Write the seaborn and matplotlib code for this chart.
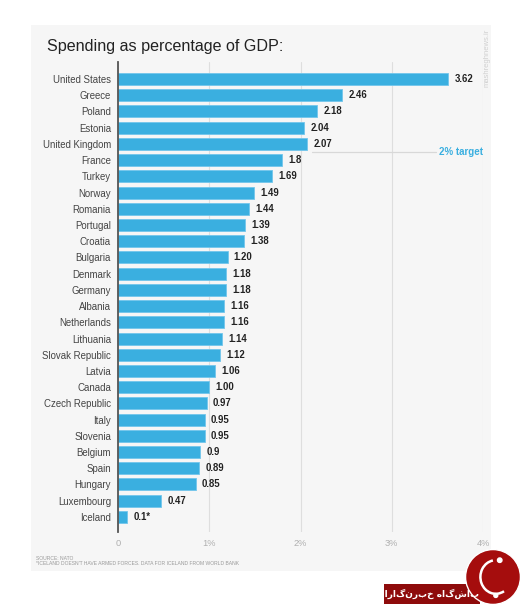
import matplotlib
matplotlib.use("Agg")
import matplotlib.pyplot as plt
import seaborn as sns
import pandas as pd
from matplotlib.patches import Rectangle, Circle, Arc

countries = ["United States", "Greece", "Poland", "Estonia", "United Kingdom", "France",
             "Turkey", "Norway", "Romania", "Portugal", "Croatia", "Bulgaria", "Denmark",
             "Germany", "Albania", "Netherlands", "Lithuania", "Slovak Republic", "Latvia",
             "Canada", "Czech Republic", "Italy", "Slovenia", "Belgium", "Spain", "Hungary",
             "Luxembourg", "Iceland"]
values = [3.62, 2.46, 2.18, 2.04, 2.07, 1.8, 1.69, 1.49, 1.44, 1.39, 1.38, 1.20, 1.18,
          1.18, 1.16, 1.16, 1.14, 1.12, 1.06, 1.00, 0.97, 0.95, 0.95, 0.9, 0.89, 0.85,
          0.47, 0.1]
value_labels = ["3.62", "2.46", "2.18", "2.04", "2.07", "1.8", "1.69", "1.49", "1.44", "1.39",
                "1.38", "1.20", "1.18", "1.18", "1.16", "1.16", "1.14", "1.12", "1.06", "1.00",
                "0.97", "0.95", "0.95", "0.9", "0.89", "0.85", "0.47", "0.1*"]
x_ticks = [0, 1, 2, 3, 4]
x_tick_labels = ["0", "1%", "2%", "3%", "4%"]
target_value = 2.0
title = "Spending as percentage of GDP:"
source_note = "SOURCE: NATO"
footnote = "*ICELAND DOESN'T HAVE ARMED FORCES. DATA FOR ICELAND FROM WORLD BANK"
logo_text = "باشگاه خبرنگاران"

df = pd.DataFrame({"country": countries, "value": values})

sns.set_theme(style="white")
plt.rcParams["font.family"] = ["Liberation Sans", "DejaVu Sans"]

W, H = 520, 604
fig = plt.figure(figsize=(W / 100, H / 100), dpi=100)
fig.patch.set_facecolor("white")

# panel background
fig.patches.append(Rectangle((31 / W, 1 - 571 / H), 460 / W, 546 / H,
                             transform=fig.transFigure, facecolor="#f6f6f6",
                             edgecolor="none", zorder=-5))

ax = fig.add_axes([118 / W, 1 - 532 / H, 365 / W, 470 / H])
ax.set_zorder(2)
ax.set_facecolor("none")

bar_color = "#3aafe0"
sns.barplot(data=df, y="country", x="value", orient="h", color=bar_color,
            width=0.74, saturation=1, edgecolor="#72c6ec", linewidth=0.6, ax=ax, zorder=3)

ax.set_xlim(0, 4.0)
ax.set_ylim(27.93, -1.05)
ax.set_xticks(x_ticks)
ax.set_xticklabels(x_tick_labels, color="#b0b0b0", fontsize=6.7)
ax.tick_params(axis="x", length=0, pad=5)
ax.tick_params(axis="y", length=0, pad=5, labelsize=6.9, labelcolor="#444444")
ax.set_xlabel("")
ax.set_ylabel("")
ax.xaxis.grid(True, color="#dedede", linewidth=0.8, zorder=0)
ax.set_axisbelow(True)
for s in ["top", "right", "bottom"]:
    ax.spines[s].set_visible(False)
ax.spines["left"].set_color("#555555")
ax.spines["left"].set_linewidth(1.3)
ax.spines["left"].set_zorder(5)

for i, (v, lab) in enumerate(zip(values, value_labels)):
    ax.annotate(lab, (v, i), xytext=(4.5, 0), textcoords="offset points",
                ha="left", va="center", fontsize=6.9, fontweight="bold", color="#222222")

# 2% target marker line
ax.plot([2.13, 3.48], [4.5, 4.5], color="#d8d8d8", linewidth=0.9, zorder=2)
ax.text(3.52, 4.5, f"{target_value:g}% target", color="#3aafe0", fontsize=7,
        fontweight="bold", ha="left", va="center")

fig.text(47 / W, 1 - 47 / H, title, fontsize=11.6, color="#222222", ha="left", va="center")
fig.text(36 / W, 1 - 558 / H, source_note, fontsize=3.6, color="#999999", ha="left", va="center")
fig.text(36 / W, 1 - 563.5 / H, footnote, fontsize=3.6, color="#999999", ha="left", va="center")

# watermark
fig.text(487 / W, 1 - 58 / H, "mashreghnews.ir", rotation=90, fontsize=5.5, color="#d0d0d0",
         ha="center", va="center")

# bottom-right logo
red = "#8e0b0b"
fig.patches.append(Rectangle((384 / W, 1 - 604 / H), 96 / W, 20 / H, transform=fig.transFigure,
                             facecolor=red, edgecolor="none", zorder=5))
logo_ax = fig.add_axes([465 / W, 1 - 605 / H, 56 / W, 56 / H])
logo_ax.set_zorder(6)
logo_ax.set_xlim(0, 1)
logo_ax.set_ylim(0, 1)
logo_ax.axis("off")
logo_ax.add_patch(Circle((0.5, 0.5), 0.49, facecolor="#a50d0d", edgecolor="white", linewidth=1.0))
logo_ax.add_patch(Arc((0.55, 0.5), 0.55, 0.6, theta1=100, theta2=300, color="white", linewidth=1.8))
logo_ax.add_patch(Circle((0.62, 0.8), 0.04, color="white"))
logo_ax.add_patch(Circle((0.55, 0.17), 0.035, color="white"))
# matplotlib lays text out left-to-right, so the logo caption is given in visual order
fig.text(428 / W, 1 - 594 / H, logo_text[::-1], fontsize=6.5, color="white",
         fontweight="bold", ha="center", va="center", family=["DejaVu Sans"], zorder=7)

fig.savefig("out.png", dpi=100, facecolor="white")
